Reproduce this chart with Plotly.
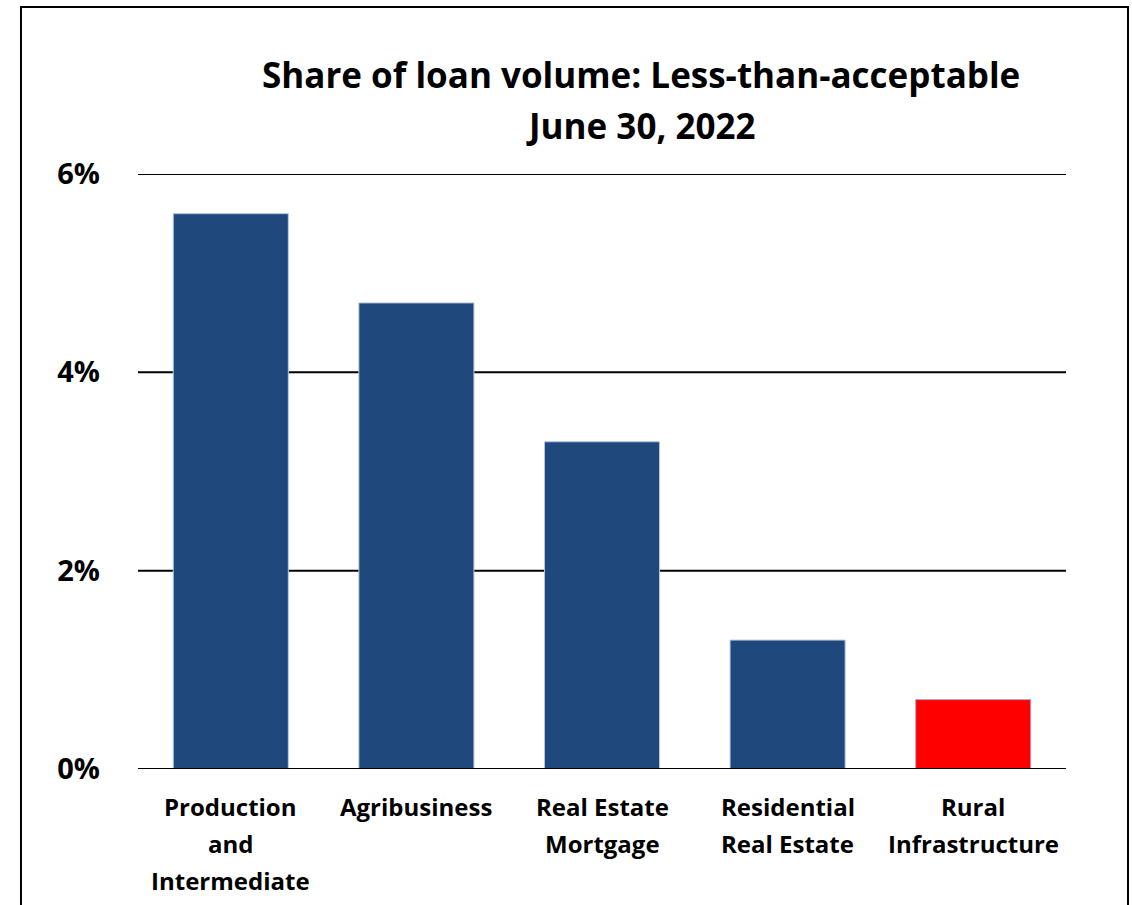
import plotly.graph_objects as go

categories = ["Production<br>and<br>Intermediate", "Agribusiness", "Real Estate<br>Mortgage",
              "Residential<br>Real Estate", "Rural<br>Infrastructure"]
values = [5.6, 4.7, 3.3, 1.3, 0.7]
bar_colors = ["#1F497D", "#1F497D", "#1F497D", "#1F497D", "#FF0000"]
line_colors = ["#B9C7DC", "#B9C7DC", "#B9C7DC", "#B9C7DC", "#A9A6D6"]
tick_vals = [0, 2, 4, 6]
tick_text = ["0%", "2%", "4%", "6%"]
title_lines = ["Share of loan volume: Less-than-acceptable", "June 30, 2022"]

FONT = "Open Sans"

fig = go.Figure()
fig.add_trace(go.Bar(
    x=list(range(len(categories))), y=values,
    marker=dict(color=bar_colors, line=dict(color=line_colors, width=1)),
    width=0.62,
))

annotations = []
for i, lab in enumerate(categories):
    for j, line in enumerate(lab.split("<br>")):
        annotations.append(dict(
            x=i, y=0, xref="x", yref="y", text="<b>%s</b>" % line, showarrow=False,
            yshift=-(37 + 37 * j), yanchor="middle", xanchor="center",
            font=dict(family=FONT, size=24, color="black"),
        ))
for k, t in enumerate(title_lines):
    annotations.append(dict(x=0.542, y=(769 - 75 - 50 * k) / 595, xref="paper", yref="paper",
                            text="<b>%s</b>" % t, showarrow=False,
                            xanchor="center", yanchor="middle",
                            font=dict(family=FONT, size=35, color="black")))

shapes = [
    dict(type="rect", xref="paper", yref="paper", x0=-0.1261, x1=1.0668, y0=-0.35, y1=1.2807,
         line=dict(color="black", width=2), fillcolor="rgba(0,0,0,0)", layer="below"),
]
for tv in tick_vals:
    shapes.append(dict(type="line", xref="paper", yref="y", x0=0, x1=1, y0=tv, y1=tv,
                       line=dict(color="black", width=2), layer="above" if tv == 0 else "below"))

fig.update_layout(
    width=1132, height=905,
    margin=dict(l=138, r=66, t=174, b=136),
    paper_bgcolor="white", plot_bgcolor="white",
    showlegend=False,
    font=dict(family=FONT, color="black"),
    xaxis=dict(range=[-0.5, 4.5], showticklabels=False, showgrid=False, zeroline=False,
               showline=False, fixedrange=True),
    yaxis=dict(range=[0, 6], tickvals=tick_vals, ticktext=["<b>%s</b>" % t for t in tick_text],
               tickfont=dict(family=FONT, size=29, color="black"),
               showgrid=False, zeroline=False,
               showline=False, ticklabelstandoff=37),
    shapes=shapes,
    annotations=annotations,
)

fig.write_html("out.html")
